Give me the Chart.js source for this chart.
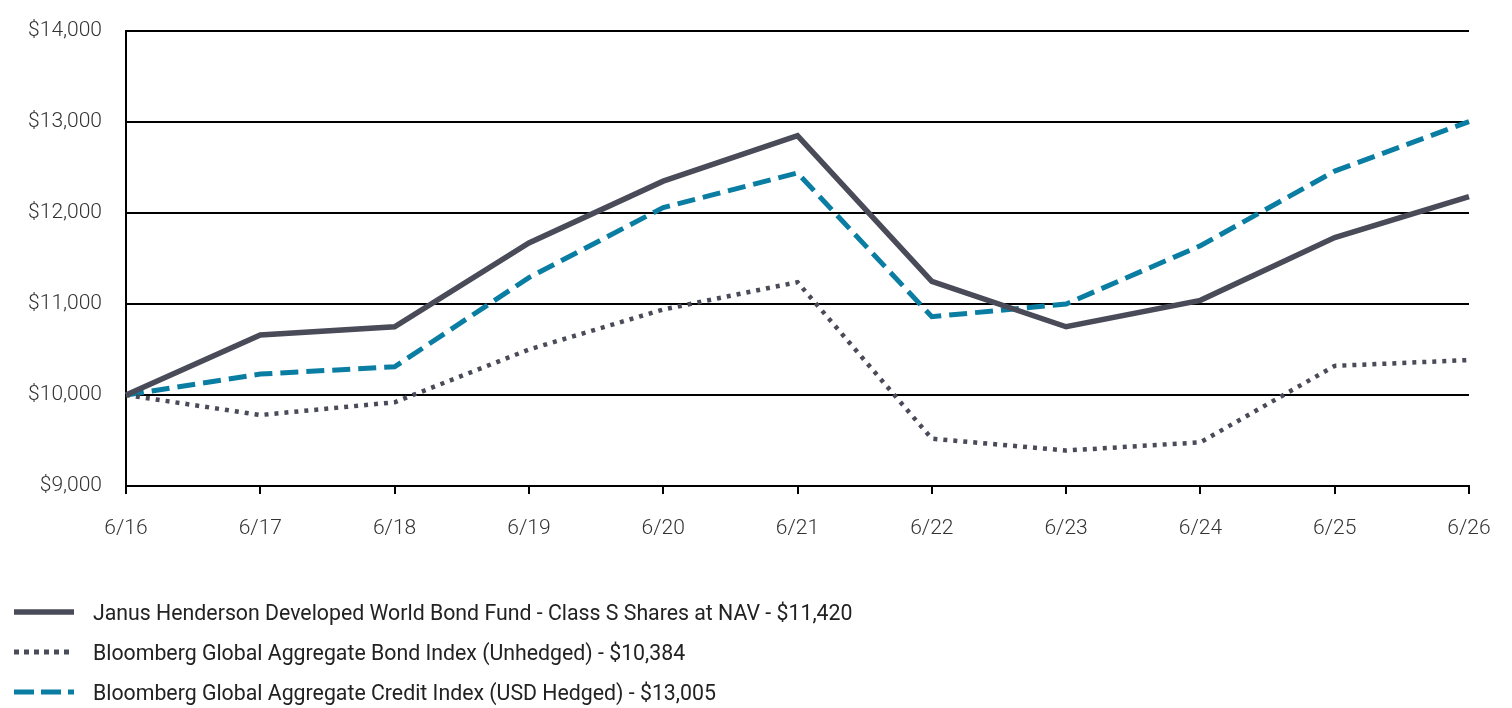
<!DOCTYPE html>
<html>
<head>
<meta charset="utf-8">
<script src="https://cdn.jsdelivr.net/npm/chart.js@4"></script>
<style>
  html, body { margin: 0; padding: 0; background: #fff; }
  body { width: 1512px; height: 708px; position: relative; overflow: hidden; font-family: Roboto, "Noto Sans", sans-serif; }
  #wrap { position: absolute; left: 0; top: 0; width: 1512px; height: 708px; }
  .legend { position: absolute; left: 14px; top: 592px; color: #222; font-size: 21.3px; }
  .legend .row { height: 40px; display: flex; align-items: center; }
  .legend svg { width: 60px; height: 8px; margin-right: 19px; }
</style>
</head>
<body>
<div id="wrap"><canvas id="growthChart"></canvas></div>
<div class="legend" id="legend"></div>
<script>
const categories = ['6/16', '6/17', '6/18', '6/19', '6/20', '6/21', '6/22', '6/23', '6/24', '6/25', '6/26'];
const fundValues = [10000, 10660, 10750, 11670, 12350, 12850, 11250, 10750, 11040, 11730, 12180];
const unhedgedValues = [10000, 9780, 9920, 10500, 10940, 11240, 9520, 9390, 9480, 10320, 10384];
const creditValues = [10000, 10230, 10310, 11290, 12060, 12440, 10860, 11000, 11640, 12460, 13005];
const seriesNames = [
    'Janus Henderson Developed World Bond Fund - Class S Shares at NAV - $11,420',
    'Bloomberg Global Aggregate Bond Index (Unhedged) - $10,384',
    'Bloomberg Global Aggregate Credit Index (USD Hedged) - $13,005'
];
const yTicks = [9000, 10000, 11000, 12000, 13000, 14000];

const GRAY = '#4a4b58';
const TEAL = '#0a7da3';

document.addEventListener("DOMContentLoaded", function() {
    const ctx = document.getElementById('growthChart').getContext('2d');
    new Chart(ctx, {
        type: 'line',
        data: {
            labels: categories,
            datasets: [
                { label: seriesNames[0], data: fundValues, borderColor: GRAY, borderWidth: 5.5, borderDash: [] },
                { label: seriesNames[1], data: unhedgedValues, borderColor: GRAY, borderWidth: 4.5, borderDash: [4, 6] },
                { label: seriesNames[2], data: creditValues, borderColor: TEAL, borderWidth: 5, borderDash: [18, 8] }
            ]
        },
        options: {
            responsive: true,
            maintainAspectRatio: false,
            animation: false,
            layout: { padding: { top: 31, right: 43, bottom: 162, left: 0 } },
            elements: {
                point: { radius: 0 },
                line: { tension: 0, borderCapStyle: 'butt', borderJoinStyle: 'miter' }
            },
            plugins: {
                legend: { display: false },
                tooltip: { enabled: false }
            },
            scales: {
                x: {
                    offset: false,
                    grid: { drawOnChartArea: false, drawTicks: true, tickLength: 8, color: '#000', lineWidth: 2 },
                    border: { display: true, color: '#000', width: 2 },
                    ticks: { color: '#333', font: { family: 'Roboto', size: 21, weight: 300 }, padding: 22, maxRotation: 0 },
                    afterFit: function(scale) {
                        scale.height = 60;
                        scale.paddingLeft = 0;
                        scale.paddingRight = 0;
                    }
                },
                y: {
                    min: 9000,
                    max: 14000,
                    afterBuildTicks: function(scale) { scale.ticks = yTicks.map(v => ({ value: v })); },
                    grid: { color: '#000', lineWidth: 2, drawTicks: false },
                    border: { display: true, color: '#000', width: 2 },
                    ticks: {
                        color: '#333',
                        font: { family: 'Roboto', size: 21, weight: 300 },
                        padding: 24,
                        callback: function(v) { return '$' + v.toLocaleString('en-US'); }
                    },
                    afterFit: function(scale) {
                        scale.width = 126;
                        scale.paddingTop = 0;
                        scale.paddingBottom = 0;
                    }
                }
            }
        }
    });

    // Legend built as HTML text
    const legend = document.getElementById('legend');
    const swatches = [
        '<line x1="0" y1="4" x2="60" y2="4" stroke="' + GRAY + '" stroke-width="5.5"/>',
        '<line x1="0" y1="4" x2="60" y2="4" stroke="' + GRAY + '" stroke-width="5" stroke-dasharray="5 5"/>',
        '<line x1="0" y1="4" x2="60" y2="4" stroke="' + TEAL + '" stroke-width="5" stroke-dasharray="20 7"/>'
    ];
    seriesNames.forEach(function(name, i) {
        legend.innerHTML += '<div class="row"><svg viewBox="0 0 60 8">' + swatches[i] + '</svg><span>' + name + '</span></div>';
    });
});
</script>
</body>
</html>
